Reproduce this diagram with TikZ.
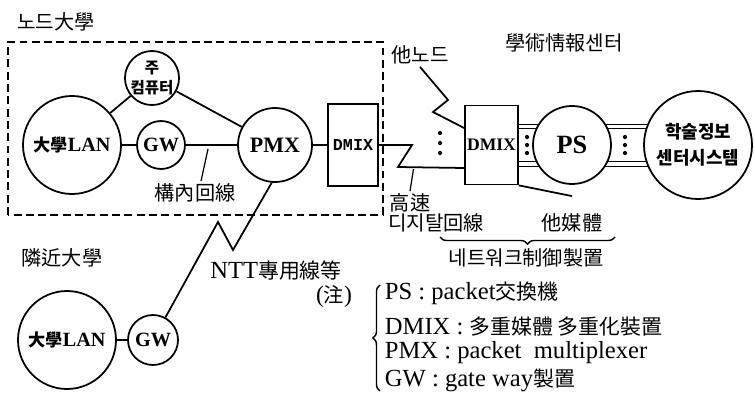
\documentclass[tikz,border=0pt]{standalone}
\usepackage{fontspec}
\setmainfont{Liberation Serif}
\newfontfamily\kr[Scale=0.85]{Noto Sans CJK KR}
\newfontfamily\dmixfont{Liberation Mono}
\usetikzlibrary{calc,backgrounds,decorations.pathreplacing}

\tikzset{
    unit/.style={draw, circle, fill=white, inner sep=0pt, font=\bfseries\fontsize{11.5}{13}\selectfont},
    dev/.style={draw, fill=white, inner sep=0pt, minimum width=1.06cm, minimum height=1.58cm, font=\bfseries\fontsize{10}{12}\selectfont},
    lbl/.style={inner sep=1pt, font=\kr\fontsize{13.5}{16}\selectfont},
    note/.style={anchor=west, inner sep=0pt, font=\fontsize{14}{16}\selectfont},
    pointer/.style={line width=0.7pt},
}

\begin{document}
\begin{tikzpicture}[line width=1pt]
    \useasboundingbox (0,0) rectangle (15.1,7.9);

    \node[lbl] (nodeuniv) at (1.12, 7.46) {노드大學};
    \draw[dash pattern=on 4.5pt off 2.5pt, line width=0.9pt] (0.16, 3.6) rectangle (7.66, 7.06);

    \node[unit, minimum size=1.96cm] (lan1) at (1.44, 5.0) {{\kr 大學}LAN};
    \node[unit, minimum size=1.08cm, align=center, font=\kr\bfseries\fontsize{10.4}{11}\selectfont] (comp) at (3.04, 6.34) {주\\컴퓨터};
    \node[unit, minimum size=0.96cm] (gw1) at (3.22, 5.0) {GW};
    \node[unit, minimum size=1.48cm, font=\bfseries\fontsize{12.5}{14}\selectfont] (pmx) at (5.5, 5.0) {PMX};
    \node[dev, minimum width=1.0cm, minimum height=1.64cm, font=\dmixfont\bfseries\fontsize{9.5}{11}\selectfont] (dmix1) at (7.06, 5.0) {DMIX};

    \draw (lan1) -- (comp);
    \draw (comp) -- (pmx);
    \draw (lan1) -- (gw1);
    \draw (gw1) -- (pmx);
    \draw (pmx) -- (dmix1);

    \node[lbl] (campus) at (3.9, 4.04) {構內回線};
    \coordinate (campuspt) at (4.16, 4.92);
    \draw[pointer] ($(campus.north)+(0.12,0)$) -- (campuspt);

    \node[lbl] (infocenter) at (11.28, 7.04) {學術情報센터};
    \node[dev] (dmix2) at (9.83, 5.0) {DMIX};
    \node[unit, minimum size=1.56cm, font=\bfseries\fontsize{15}{16}\selectfont] (ps) at (11.44, 5.0) {PS};
    \node[unit, minimum size=2.16cm, align=center, font=\kr\bfseries\fontsize{12}{14.7}\selectfont] (cis) at (13.96, 5.0) {학술정보\\센터시스템};

    \begin{scope}[on background layer, line width=0.8pt]
        \foreach \dy in {0.42, 0.33, -0.33, -0.42}
            \draw ($(dmix2.east)+(0,\dy)$) -- ($(cis.center)+(0,\dy)$);
    \end{scope}
    \foreach \x in {10.54, 12.5}
        \foreach \dy in {-0.16, 0, 0.16}
            \fill (\x, {5.0+\dy}) circle (1.2pt);
    \foreach \dy in {-0.2, 0, 0.2}
        \fill (8.8, {5.04+\dy}) circle (1.2pt);

    \draw (dmix1.east) -- (8.24, 5.0) -- (7.96, 4.56) -- ($(dmix2.west)+(0,-0.46)$);
    \node[lbl] (othernode) at (8.4, 6.8) {他노드};
    \draw (othernode.south) -- (8.96, 5.9) -- (8.66, 5.66) -- ($(dmix2.west)+(0,0.34)$);

    \node[lbl] (fast) at (8.2, 3.84) {高速};
    \coordinate (fastpt) at (8.27, 4.52);
    \draw[pointer] (fast.north) -- (fastpt);
    \node[lbl] (digital) at (8.72, 3.44) {디지탈回線};
    \node[lbl] (media) at (11.44, 3.44) {他媒體};
    \draw (media.north) ++(0, 0.3) -- (dmix2.south east);
    \draw[decorate, decoration={brace, amplitude=4pt}, line width=0.8pt] (12.3, 3.16) -- (8.8, 3.16);
    \node[lbl] (netctrl) at (10.52, 2.74) {네트워크制御製置};

    \node[lbl] (nearuniv) at (1.24, 2.74) {隣近大學};
    \node[unit, minimum size=1.96cm] (lan2) at (1.34, 1.1) {{\kr 大學}LAN};
    \node[unit, minimum size=1.0cm] (gw2) at (3.06, 1.1) {GW};
    \draw (lan2) -- (gw2);
    \draw (pmx.-95) -- (4.66, 2.9) -- (4.36, 3.46) -- (gw2);

    \node[font=\fontsize{14}{16}\selectfont] (ntt) at (5.52, 2.48) {NTT{\kr 專用線等}};
    \node[font=\fontsize{13.5}{15}\selectfont] (notemark) at (6.68, 1.97) {({\kr 注})};

    \draw[decorate, decoration={brace, amplitude=4pt}, line width=0.8pt] (7.6, 0.08) -- (7.6, 2.2);
    \node[note] (leg1) at (7.68, 2.04) {PS : packet{\kr 交換機}};
    \node[note] (leg2) at (7.68, 1.36) {DMIX : {\kr 多重媒體 多重化裝置}};
    \node[note] (leg3) at (7.68, 0.84) {PMX : packet\ \ multiplexer};
    \node[note] (leg4) at (7.68, 0.3) {GW : gate way{\kr 製置}};
\end{tikzpicture}
\end{document}
